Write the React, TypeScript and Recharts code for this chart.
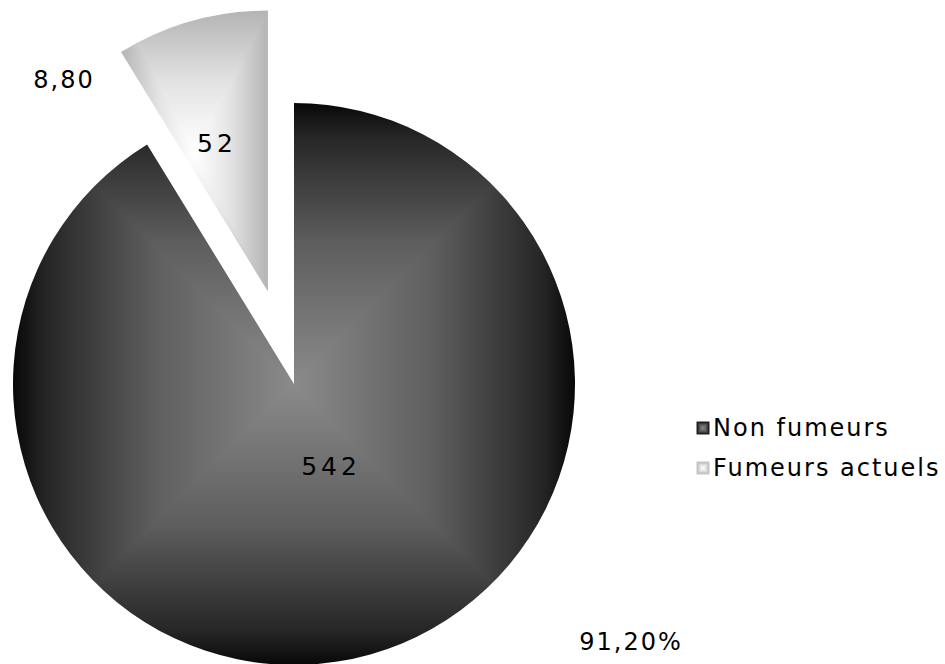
import React from 'react';
import { PieChart, Pie, Cell, Legend } from 'recharts';

// ---- data ----
const categories = ['Non fumeurs', 'Fumeurs actuels'];
const counts = [542, 52];
const percentLabels = ['91,20%', '8,80'];
const exploded = [false, true];

const data = categories.map((name, i) => ({ name, value: counts[i] }));

// ---- layout ----
const W = 945;
const H = 664;
const CX = 294;
const CY = 384;
const R = 281;
const START = 90;
const END = -270;
const EXPLODE = 96;
const FONT = '"DejaVu Sans", Verdana, sans-serif';

// label offsets relative to pie centre
const valueOffsets = [
  [37, 82],
  [-77, -241],
];
const percentOffsets = [
  [337, 258],
  [-230, -304],
];

const fills = ['url(#pBig)', 'url(#pSmall)'];

const total = counts.reduce((a, b) => a + b, 0);
function explodeOffset(index: number) {
  if (!exploded[index]) return { dx: 0, dy: 0 };
  const before = counts.slice(0, index).reduce((a, b) => a + b, 0);
  const mid = START + ((END - START) * (before + counts[index] / 2)) / total;
  const rad = (mid * Math.PI) / 180;
  return { dx: EXPLODE * Math.cos(rad), dy: -EXPLODE * Math.sin(rad) };
}

type Stop = [number, string];

function RectGradient({ id, stops }: { id: string; stops: Stop[] }) {
  // stops go from edge (0) to centre (1)
  const half = (s: Stop[]) => s.map(([o, c]) => ({ o: o / 2, c }));
  const sym: { o: number; c: string }[] = [
    ...half(stops),
    ...half(stops)
      .slice()
      .reverse()
      .map(({ o, c }) => ({ o: 1 - o, c })),
  ];
  return (
    <>
      <linearGradient id={`${id}H`} x1="0" y1="0" x2="1" y2="0">
        {sym.map((s, i) => (
          <stop key={i} offset={s.o} stopColor={s.c} />
        ))}
      </linearGradient>
      <linearGradient id={`${id}T`} x1="0" y1="0" x2="0" y2="1">
        {stops.map(([o, c], i) => (
          <stop key={i} offset={o} stopColor={c} />
        ))}
      </linearGradient>
      <linearGradient id={`${id}B`} x1="0" y1="1" x2="0" y2="0">
        {stops.map(([o, c], i) => (
          <stop key={i} offset={o} stopColor={c} />
        ))}
      </linearGradient>
      <pattern
        id={id}
        patternUnits="objectBoundingBox"
        patternContentUnits="objectBoundingBox"
        x="0"
        y="0"
        width="1"
        height="1"
      >
        <rect x="0" y="0" width="1" height="1" fill={`url(#${id}H)`} />
        <polygon points="0,0 1,0 0.5,0.5" fill={`url(#${id}T)`} />
        <polygon points="0,1 1,1 0.5,0.5" fill={`url(#${id}B)`} />
      </pattern>
    </>
  );
}

const bigStops: Stop[] = [
  [0, '#080808'],
  [0.12, '#262626'],
  [0.5, '#5e5e5e'],
  [1, '#8a8a8a'],
];
const smallStops: Stop[] = [
  [0, '#b4b4b4'],
  [0.5, '#e2e2e2'],
  [1, '#ffffff'],
];

const renderLabel = (props: any) => {
  const { cx, cy, index, value } = props;
  const [vx, vy] = valueOffsets[index];
  const [px, py] = percentOffsets[index];
  return (
    <g key={`lbl-${index}`} fontFamily={FONT} fill="#000">
      <text
        x={cx + vx}
        y={cy + vy}
        textAnchor="middle"
        dominantBaseline="central"
        fontSize={25}
        letterSpacing={4}
      >
        {value}
      </text>
      <text
        x={cx + px}
        y={cy + py}
        textAnchor="middle"
        dominantBaseline="central"
        fontSize={24}
        letterSpacing={2}
      >
        {percentLabels[index]}
      </text>
    </g>
  );
};

const renderLegend = () => {
  return (
    <div style={{ fontFamily: FONT, fontSize: 24, letterSpacing: 2, color: '#000' }}>
      {categories.map((name, i) => (
        <div key={name} style={{ display: 'flex', alignItems: 'center', height: 40 }}>
          <svg width={17} height={14}>
            <rect
              x={1}
              y={1}
              width={12}
              height={12}
              fill={fills[i]}
              stroke={i === 0 ? '#222' : '#c8c8c8'}
              strokeWidth={1}
            />
          </svg>
          <span style={{ lineHeight: '28px' }}>{name}</span>
        </div>
      ))}
    </div>
  );
};

export default function App() {
  return (
    <div style={{ position: 'absolute', left: 0, top: 0, width: W, height: H, background: '#fff' }}>
      <PieChart width={W} height={H} margin={{ top: 0, right: 0, bottom: 0, left: 0 }}>
        <defs>
          <RectGradient id="pBig" stops={bigStops} />
          <RectGradient id="pSmall" stops={smallStops} />
        </defs>
        <Pie
          data={data}
          dataKey="value"
          nameKey="name"
          cx={CX}
          cy={CY}
          outerRadius={R}
          innerRadius={0}
          startAngle={START}
          endAngle={END}
          stroke="none"
          label={renderLabel}
          labelLine={false}
          isAnimationActive={false}
        >
          {data.map((d, i) => {
            const { dx, dy } = explodeOffset(i);
            return (
              <Cell
                key={d.name}
                fill={fills[i]}
                transform={`translate(${dx},${dy})`}
              />
            );
          })}
        </Pie>
        <Legend
          layout="vertical"
          align="right"
          verticalAlign="middle"
          content={renderLegend}
          wrapperStyle={{ position: 'absolute', left: 696, top: 408, width: 249 }}
        />
      </PieChart>
    </div>
  );
}
